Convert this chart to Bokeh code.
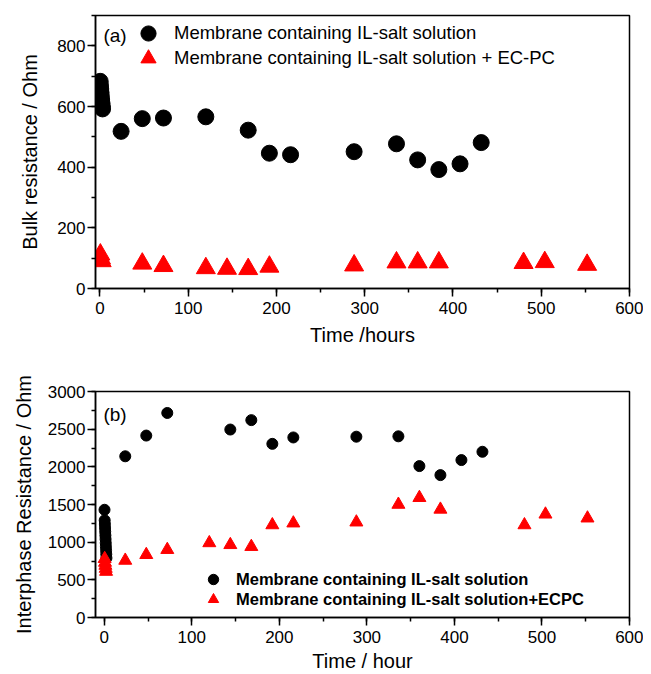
from bokeh.plotting import figure
from bokeh.models import Legend, LegendItem, Label, Range1d, FixedTicker
from bokeh.layouts import column
from bokeh.embed import file_html
from bokeh.resources import INLINE

# ---------------- data: panel (a) bulk resistance ----------------
a_il_time = [0.3, 0.6, 0.9, 1.2, 1.5, 1.9, 2.3, 2.7, 3.0,
             24, 48, 72, 120, 168, 192, 216, 288, 336, 360, 384, 408, 432]
a_il_res = [683, 670, 658, 647, 636, 624, 612, 601, 592,
            518, 560, 562, 566, 522, 446, 441, 451, 477, 424, 392, 411, 481]
a_ecpc_time = [0.5, 1.2, 2.0, 48, 72, 120, 144, 168, 192, 288, 336, 360, 384, 480, 504, 552]
a_ecpc_res = [112, 99, 90, 82, 74, 67, 65, 64, 72, 76, 86, 86, 86, 84, 87, 78]

# ---------------- data: panel (b) interphase resistance ----------------
b_il_time = [0.3, 0.5, 0.7, 0.9, 1.1, 1.3, 1.5, 1.7, 1.9, 2.1, 2.3, 2.5,
             24, 48, 72, 144, 168, 192, 216, 288, 336, 360, 384, 408, 432]
b_il_res = [1430, 1290, 1240, 1190, 1140, 1090, 1040, 990, 940, 890, 840, 790,
            2140, 2415, 2715, 2495, 2620, 2305, 2390, 2400, 2405, 2010, 1890, 2090, 2200]
b_ecpc_time = [0.5, 0.9, 1.3, 1.7, 2.1,
               24, 48, 72, 120, 144, 168, 192, 216, 288, 336, 360, 384, 480, 504, 552]
b_ecpc_res = [780, 730, 690, 650, 610,
              757, 833, 900, 990, 965, 940, 1228, 1252, 1265, 1500, 1590, 1435, 1228, 1370, 1318]

labels_a = ["Membrane containing IL-salt solution",
            "Membrane containing IL-salt solution + EC-PC"]
labels_b = ["Membrane containing IL-salt solution",
            "Membrane containing IL-salt solution+ECPC"]

x_ticks = list(range(0, 601, 100))
x_minor = list(range(0, 601, 50))
a_y_ticks = list(range(0, 801, 200))
a_y_minor = list(range(0, 901, 100))
b_y_ticks = list(range(0, 3001, 500))
b_y_minor = list(range(0, 3001, 250))

FONT = "Liberation Sans"


def style(p, xlabel, ylabel, title_standoff_y, x_label_standoff, x_title_standoff):
    p.xgrid.visible = False
    p.ygrid.visible = False
    p.outline_line_color = "black"
    p.outline_line_width = 1.5
    p.background_fill_color = "white"
    p.border_fill_color = "white"
    for ax in (p.xaxis[0], p.yaxis[0]):
        ax.axis_line_width = 1.5
        ax.axis_line_color = "black"
        ax.major_tick_line_width = 1.5
        ax.minor_tick_line_width = 1.5
        ax.major_tick_line_color = "black"
        ax.minor_tick_line_color = "black"
        ax.major_tick_in = 0
        ax.major_tick_out = 8
        ax.minor_tick_in = 0
        ax.minor_tick_out = 4
        ax.major_label_text_font = FONT
        ax.major_label_text_font_size = "17px"
        ax.major_label_text_color = "black"
        ax.axis_label_text_font = FONT
        ax.axis_label_text_font_size = "20px"
        ax.axis_label_text_font_style = "normal"
        ax.axis_label_text_color = "black"
    p.xaxis[0].major_label_standoff = x_label_standoff
    p.xaxis[0].axis_label_standoff = x_title_standoff
    p.xaxis[0].axis_label = xlabel
    p.yaxis[0].axis_label = ylabel
    p.yaxis[0].major_label_standoff = 2
    p.yaxis[0].axis_label_standoff = title_standoff_y


def legend_row(item, loc, glyph, standoff, size, bold=False):
    return Legend(items=[item], location=loc, border_line_color=None,
                  background_fill_alpha=0, padding=0, margin=0, spacing=0,
                  glyph_width=glyph, glyph_height=glyph, label_height=20,
                  label_standoff=standoff, label_text_font=FONT,
                  label_text_font_size=size, label_text_color="black",
                  label_text_font_style="bold" if bold else "normal")


# ---------------- panel (a) ----------------
pa = figure(width=643, height=348, output_backend="svg", toolbar_location=None,
            min_border_left=94, min_border_right=14, min_border_top=15, min_border_bottom=58,
            x_range=Range1d(-5, 600), y_range=Range1d(0, 900))
style(pa, "Time /hours", "Bulk resistance / Ohm", 13, 5, 7)
pa.xaxis[0].ticker = FixedTicker(ticks=x_ticks, minor_ticks=x_minor)
pa.yaxis[0].ticker = FixedTicker(ticks=a_y_ticks, minor_ticks=a_y_minor)

ra1 = pa.scatter(a_il_time, a_il_res, marker="circle", size=16, fill_color="black", line_color="black")
ra2 = pa.scatter(a_ecpc_time, a_ecpc_res, marker="triangle", size=19, fill_color="#ff0000", line_color="#ff0000")

pa.add_layout(legend_row(LegendItem(label=labels_a[0], renderers=[ra1]), (34, 236), 38, 7, "18.5px"), "center")
pa.add_layout(legend_row(LegendItem(label=labels_a[1], renderers=[ra2]), (34, 211), 38, 7, "18.5px"), "center")
pa.add_layout(Label(x=4, y=834, text="(a)", text_font=FONT, text_font_size="19px",
                    text_color="black", text_baseline="middle", text_align="left"))

# ---------------- panel (b) ----------------
pb = figure(width=643, height=326, output_backend="svg", toolbar_location=None,
            min_border_left=95, min_border_right=10, min_border_top=43, min_border_bottom=55,
            x_range=Range1d(-10, 600), y_range=Range1d(0, 3000))
style(pb, "Time / hour", "Interphase Resistance / Ohm", 10, 5, 4)
pb.xaxis[0].ticker = FixedTicker(ticks=x_ticks, minor_ticks=x_minor)
pb.yaxis[0].ticker = FixedTicker(ticks=b_y_ticks, minor_ticks=b_y_minor)

rb1 = pb.scatter(b_il_time, b_il_res, marker="circle", size=11, fill_color="black", line_color="black")
rb2 = pb.scatter(b_ecpc_time, b_ecpc_res, marker="triangle", size=13, fill_color="#ff0000", line_color="#ff0000")

pb.add_layout(legend_row(LegendItem(label=labels_b[0], renderers=[rb1]), (105, 25), 26, 10, "16.5px", True), "center")
pb.add_layout(legend_row(LegendItem(label=labels_b[1], renderers=[rb2]), (105, 5), 26, 10, "16.5px", True), "center")
pb.add_layout(Label(x=-1, y=2700, text="(b)", text_font=FONT, text_font_size="19px",
                    text_color="black", text_baseline="middle", text_align="left"))

layout = column(pa, pb, spacing=0)
open("out.html", "w").write(file_html(layout, INLINE))
